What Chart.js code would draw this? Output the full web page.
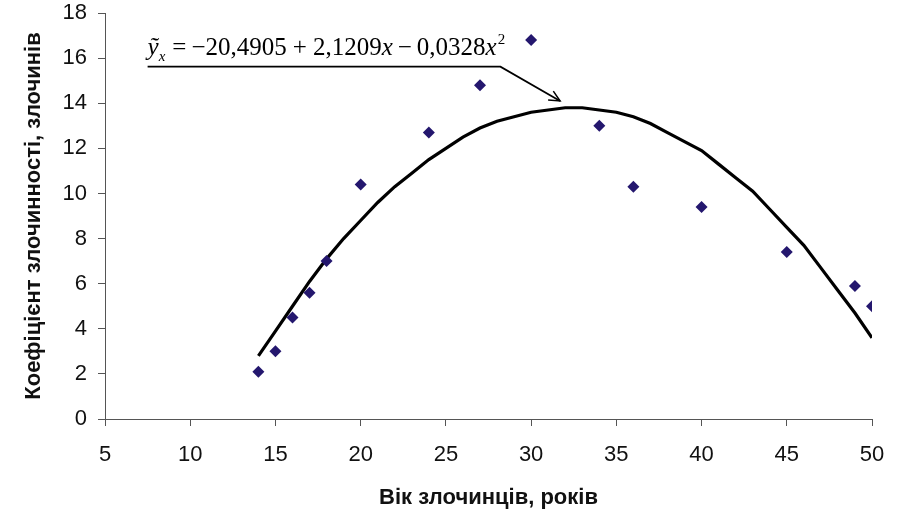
<!DOCTYPE html>
<html>
<head>
<meta charset="utf-8">
<script src="https://cdn.jsdelivr.net/npm/chart.js@4.4.1/dist/chart.umd.min.js"></script>
<style>
  html, body { margin: 0; padding: 0; background: #fff; }
  #wrap { width: 906px; height: 513px; position: relative; }
</style>
</head>
<body>
<div id="wrap"><canvas id="c" width="906" height="513"></canvas></div>
<script>
// Observed data: age of offenders (years) vs crime coefficient
const ages = [14, 15, 16, 17, 18, 20, 24, 27, 30, 34, 36, 40, 45, 49, 50];
const crimeRate = [2.1, 3.0, 4.5, 5.6, 7.0, 10.4, 12.7, 14.8, 16.8, 13.0, 10.3, 9.4, 7.4, 5.9, 5.0];

// Trend curve
const curveX = [14, 15, 16, 17, 18, 19, 20, 21, 22, 23, 24, 25, 26, 27, 28, 29, 30, 31, 32,
                33, 34, 35, 36, 37, 38, 39, 40, 41, 42, 43, 44, 45, 46, 47, 48, 49, 50];
const curveY = [2.8, 3.9, 5.0, 6.1, 7.1, 8.0, 8.8, 9.6, 10.3, 10.9, 11.5, 12.0, 12.5, 12.9, 13.2, 13.4, 13.6, 13.7, 13.8,
                13.8, 13.7, 13.6, 13.4, 13.1, 12.7, 12.3, 11.9, 11.3, 10.7, 10.1, 9.3, 8.5, 7.7, 6.7, 5.7, 4.7, 3.6];

const xTicks = [5, 10, 15, 20, 25, 30, 35, 40, 45, 50];
const yTicks = [0, 2, 4, 6, 8, 10, 12, 14, 16, 18];

const xTitle = 'Вік злочинців, років';
const yTitle = 'Коефіцієнт злочинності, злочинів';

const pointData = ages.map((a, i) => ({ x: a, y: crimeRate[i] }));
const curveData = curveX.map((a, i) => ({ x: a, y: curveY[i] }));

const AXIS = '#555';
const TICKFONT = { family: '"Liberation Sans", Arial, sans-serif', size: 22 };
const TITLEFONT = { family: '"Liberation Sans", Arial, sans-serif', size: 22, weight: 'bold' };

// Equation annotation with leader line and arrow
const equationPlugin = {
  id: 'equation',
  afterDraw(chart) {
    const { ctx, scales: { x, y } } = chart;
    const startX = x.getPixelForValue(7.5);
    const baseY = y.getPixelForValue(16.15);
    const lineY = y.getPixelForValue(15.62);
    const cornerX = x.getPixelForValue(28.2);
    const tipX = x.getPixelForValue(31.7);
    const tipY = y.getPixelForValue(14.1);

    ctx.save();
    ctx.fillStyle = '#000';
    ctx.textBaseline = 'alphabetic';
    ctx.textAlign = 'left';
    const serif = '"Liberation Serif", "Times New Roman", serif';
    let cx = startX;
    const put = (txt, font, dy) => {
      ctx.font = font;
      ctx.fillText(txt, cx, baseY + (dy || 0));
      cx += ctx.measureText(txt).width;
    };
    put('ỹ', 'italic 25px ' + serif);
    put('x', 'italic 15px ' + serif, 6);
    cx += 7;
    put('=', '25px ' + serif);
    cx += 5;
    put('−20,4905', '25px ' + serif);
    cx += 6;
    put('+', '25px ' + serif);
    cx += 6;
    put('2,1209', '25px ' + serif);
    put('x', 'italic 25px ' + serif);
    cx += 5;
    put('−', '25px ' + serif);
    cx += 5;
    put('0,0328', '25px ' + serif);
    put('x', 'italic 25px ' + serif);
    cx += 1;
    put('2', '15px ' + serif, -11);

    ctx.strokeStyle = '#000';
    ctx.lineWidth = 1.8;
    ctx.beginPath();
    ctx.moveTo(startX, lineY);
    ctx.lineTo(cornerX, lineY);
    ctx.lineTo(tipX, tipY);
    ctx.stroke();
    // arrow head
    const ang = Math.atan2(tipY - lineY, tipX - cornerX);
    const len = 12, spread = 0.45;
    ctx.lineWidth = 1.5;
    ctx.beginPath();
    ctx.moveTo(tipX - len * Math.cos(ang - spread), tipY - len * Math.sin(ang - spread));
    ctx.lineTo(tipX, tipY);
    ctx.lineTo(tipX - len * Math.cos(ang + spread), tipY - len * Math.sin(ang + spread));
    ctx.stroke();
    ctx.restore();
  }
};

new Chart(document.getElementById('c'), {
  type: 'scatter',
  data: {
    datasets: [
      {
        label: 'curve',
        data: curveData,
        showLine: true,
        borderColor: '#000',
        borderWidth: 3.2,
        pointRadius: 0,
        fill: false,
        tension: 0,
        order: 2
      },
      {
        label: 'data',
        data: pointData,
        pointStyle: 'rectRot',
        pointRadius: 6,
        backgroundColor: '#24176e',
        borderColor: '#24176e',
        borderWidth: 0,
        showLine: false,
        order: 1
      }
    ]
  },
  options: {
    responsive: false,
    animation: false,
    layout: { padding: { top: 13, right: 34, bottom: 0, left: 0 } },
    plugins: { legend: { display: false }, tooltip: { enabled: false } },
    scales: {
      x: {
        type: 'linear',
        min: xTicks[0],
        max: xTicks[xTicks.length - 1],
        afterBuildTicks: (s) => { s.ticks = xTicks.map(v => ({ value: v })); },
        afterFit: (s) => { s.height = 94; s.paddingLeft = 0; s.paddingRight = 0; },
        ticks: { font: TICKFONT, color: '#111', padding: 16, maxRotation: 0 },
        grid: { drawOnChartArea: false, drawTicks: true, tickLength: 7, color: AXIS, lineWidth: 1 },
        border: { display: true, color: AXIS, width: 1 },
        title: { display: true, text: xTitle, font: TITLEFONT, color: '#111', padding: { top: 0, bottom: 2 } }
      },
      y: {
        type: 'linear',
        min: yTicks[0],
        max: yTicks[yTicks.length - 1],
        afterBuildTicks: (s) => { s.ticks = yTicks.map(v => ({ value: v })); },
        afterFit: (s) => { s.width = 105; s.paddingTop = 0; s.paddingBottom = 0; },
        ticks: { font: TICKFONT, color: '#111', padding: 11 },
        grid: { drawOnChartArea: false, drawTicks: true, tickLength: 7, color: AXIS, lineWidth: 1 },
        border: { display: true, color: AXIS, width: 1 },
        title: { display: true, text: yTitle, font: TITLEFONT, color: '#111', padding: { top: 21, bottom: 0 } }
      }
    }
  },
  plugins: [equationPlugin]
});
</script>
</body>
</html>
